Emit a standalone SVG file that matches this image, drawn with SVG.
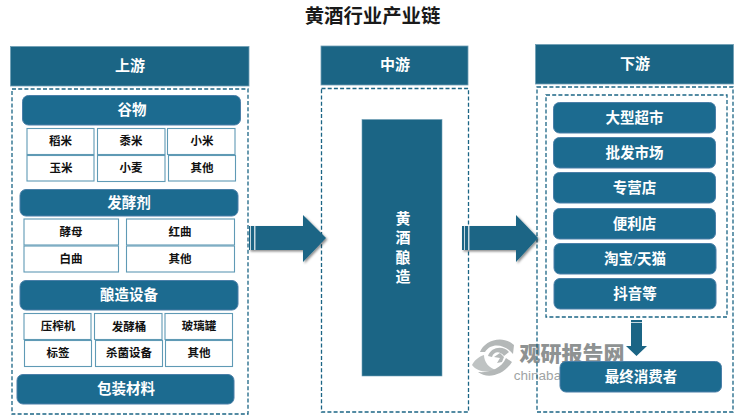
<svg xmlns="http://www.w3.org/2000/svg" width="750" height="420" viewBox="0 0 750 420">
<style>
text{font-family:"Liberation Serif","Noto Sans CJK SC",serif;text-anchor:middle;dominant-baseline:central}
.hd{fill:#1b6585;stroke:#6f9fb5;stroke-width:.8}
.hdt{fill:#fff;font-size:15px;font-weight:700}
.dash{fill:none;stroke:#1b6585;stroke-width:1.3;stroke-dasharray:4 2.2}
.rb{fill:#1c6b90;stroke:#4a7fa8;stroke-width:1}
.rbt{fill:#fff;font-size:14.5px;font-weight:700}
.c{fill:#fff;stroke:#5f9ab5;stroke-width:1.1}
.ct{fill:#111;font-size:11.5px;font-weight:700}
.ar{fill:#1b6585;stroke:none}
.st{fill:#fff;opacity:.75}
.wm{fill:#b4b8b8}
</style>
<defs><filter id="sh" x="-20%" y="-20%" width="150%" height="150%"><feDropShadow dx="1.500" dy="1.500" stdDeviation="1.200" flood-color="#000" flood-opacity=".45"/></filter></defs>

<text x="372.500" y="16" font-size="19.400" font-weight="700" fill="#1a1a1a">黄酒行业产业链</text>

<g id="watermark">
<path class="wm" d="M480 352C484 341 502 334 514 345L513 354C505 344 491 342 485 352Z"/>
<path class="wm" d="M488 356C491 347 503 345 509 352L504 356C500 351 494 351 492 357Z"/>
<path class="wm" fill-opacity=".85" d="M472 365C477 372 488 373 496 370C489 368 484 362 484 355C478 357 474 361 472 365Z"/>
<path class="wm" d="M478 372C487 379 503 376 512 362L506 358C501 369 489 373 478 372Z"/>
<path class="wm" d="M494 357l6-4 4 4-2 5-5 1 3-5z"/>
<text x="572" y="352" font-size="21" font-weight="900" style="font-family:'Noto Sans CJK SC',sans-serif" fill="#8e9292">观研报告网</text>
<text x="537.500" y="375" font-size="13.500" style="font-family:'Liberation Sans',sans-serif" fill="#a0a4a4">chinaba</text>
</g>

<g id="upstream">
<rect class="hd" x="10.500" y="46.500" width="238.500" height="39.500"/>
<text class="hdt" x="130" y="66">上游</text>
<rect class="dash" x="12" y="89" width="236" height="325"/>
</g>
<g id="grain">
<rect class="rb" x="22.500" y="95.500" width="218" height="29.500" rx="6"/>
<text class="rbt" x="132" y="110">谷物</text>
<rect class="c" x="27" y="128.500" width="67" height="26"/><text class="ct" x="60.500" y="141">稻米</text>
<rect class="c" x="97.500" y="128.500" width="67.500" height="26"/><text class="ct" x="131" y="141">黍米</text>
<rect class="c" x="167.500" y="128.500" width="67.500" height="26"/><text class="ct" x="202" y="141">小米</text>
<rect class="c" x="27" y="155.500" width="67" height="25.500"/><text class="ct" x="61" y="168">玉米</text>
<rect class="c" x="97.500" y="155.500" width="67.500" height="26"/><text class="ct" x="131" y="168">小麦</text>
<rect class="c" x="168.500" y="155.500" width="67" height="25.500"/><text class="ct" x="202" y="168">其他</text>
</g>
<g id="ferment">
<rect class="rb" x="20" y="189.500" width="218" height="26.500" rx="6"/>
<text class="rbt" x="129" y="203">发酵剂</text>
<rect class="c" x="24" y="219" width="94.500" height="26"/><text class="ct" x="71" y="232">酵母</text>
<rect class="c" x="126.500" y="219" width="108" height="26"/><text class="ct" x="180" y="232">红曲</text>
<rect class="c" x="24" y="246" width="94.500" height="26"/><text class="ct" x="71" y="259">白曲</text>
<rect class="c" x="126.500" y="246" width="108" height="26"/><text class="ct" x="180" y="259">其他</text>
</g>
<g id="equipment">
<rect class="rb" x="20" y="280.500" width="218" height="29.500" rx="6"/>
<text class="rbt" x="129" y="295">酿造设备</text>
<rect class="c" x="24" y="313.500" width="67" height="26"/><text class="ct" x="58" y="326">压榨机</text>
<rect class="c" x="94.500" y="313.500" width="67.500" height="26"/><text class="ct" x="129" y="327">发酵桶</text>
<rect class="c" x="165" y="313.500" width="67.500" height="26"/><text class="ct" x="199" y="326">玻璃罐</text>
<rect class="c" x="24.500" y="340.500" width="67" height="26"/><text class="ct" x="58" y="353">标签</text>
<rect class="c" x="95.500" y="340.500" width="67" height="26"/><text class="ct" x="129" y="353">杀菌设备</text>
<rect class="c" x="165.500" y="340.500" width="67" height="26"/><text class="ct" x="199" y="353">其他</text>
</g>
<g id="packaging">
<rect class="rb" x="17" y="374.500" width="217" height="29.500" rx="6"/>
<text class="rbt" x="126" y="389">包装材料</text>
</g>

<g id="midstream">
<rect class="hd" x="321" y="46" width="147" height="39"/>
<text class="hdt" x="395" y="65">中游</text>
<rect class="dash" x="321.500" y="88.500" width="147" height="323.500"/>
</g>
<g id="brewing">
<rect x="362" y="119.500" width="80" height="256.500" fill="#1b6585" stroke="#6f9fb5" stroke-width=".6"/>
<text x="403" y="219" font-size="15" font-weight="700" fill="#fff">黄</text>
<text x="403" y="238" font-size="15" font-weight="700" fill="#fff">酒</text>
<text x="403" y="258" font-size="15" font-weight="700" fill="#fff">酿</text>
<text x="403" y="277" font-size="15" font-weight="700" fill="#fff">造</text>
</g>

<g id="downstream">
<rect class="hd" x="535.500" y="44.500" width="198" height="39.500"/>
<text class="hdt" x="635" y="64">下游</text>
<rect class="dash" x="537" y="87" width="196" height="325"/>
<rect class="dash" x="546" y="95" width="181" height="222"/>
</g>
<g id="retail">
<rect class="rb" x="553.500" y="102.500" width="162" height="30.500" rx="6"/><text class="rbt" x="634.500" y="118">大型超市</text>
<rect class="rb" x="553.500" y="137.500" width="162" height="30.500" rx="6"/><text class="rbt" x="634.500" y="153">批发市场</text>
<rect class="rb" x="553.500" y="172.500" width="162" height="30.500" rx="6"/><text class="rbt" x="634.500" y="188">专营店</text>
<rect class="rb" x="553.500" y="208.500" width="162" height="30.500" rx="6"/><text class="rbt" x="634.500" y="224">便利店</text>
<rect class="rb" x="554" y="243.500" width="162" height="30.500" rx="6"/><text class="rbt" x="635" y="259">淘宝/天猫</text>
<rect class="rb" x="554" y="278.500" width="162" height="30.500" rx="6"/><text class="rbt" x="635" y="294">抖音等</text>
</g>
<g id="consumer">
<rect class="rb" x="560" y="361.500" width="161.500" height="30.500" rx="6"/>
<text class="rbt" x="641" y="377">最终消费者</text>
</g>

<g id="connectors">
<g filter="url(#sh)"><path class="ar" d="M249 226H303V215L326 238L303 262V250H249Z"/></g>
<rect class="st" x="250" y="226" width="1" height="24"/><rect class="st" x="254" y="226" width="1.500" height="24"/>
<g filter="url(#sh)"><path class="ar" d="M462 226H516V215L538 238L516 262V250H462Z"/></g>
<rect class="st" x="464" y="226" width="1" height="24"/><rect class="st" x="468" y="226" width="1.500" height="24"/>
<path class="ar" d="M631 320H642V346H647L636.500 356L626 346H631Z"/>
<rect class="st" x="631" y="322" width="11" height="1"/>
</g>
</svg>
